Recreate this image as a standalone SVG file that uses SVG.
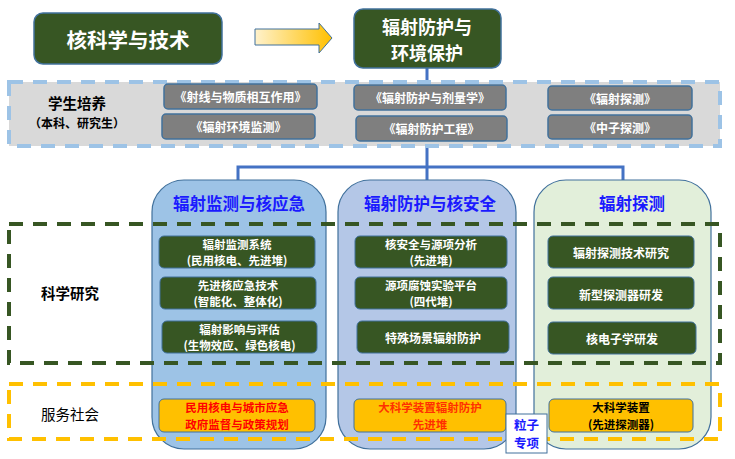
<svg xmlns="http://www.w3.org/2000/svg" width="735" height="459" viewBox="0 0 735 459">
<defs>
<linearGradient id="ag" x1="0" y1="0" x2="1" y2="0">
<stop offset="0" stop-color="#fff2cc"/>
<stop offset="1" stop-color="#ffc000"/>
</linearGradient>
<style>
text{font-family:"Noto Sans CJK SC","Liberation Sans",sans-serif;text-anchor:middle;dominant-baseline:central;font-weight:bold}
.top{fill:#375623;stroke:#41719c;stroke-width:1.5}
.course{fill:#7f7f7f;stroke:#41719c;stroke-width:1.5}
.ct{fill:#fff;font-size:12px}
.g{fill:#375623;stroke:#41719c;stroke-width:1}
.gt{fill:#fff;font-size:12px}
.gt2{fill:#fff;font-size:11.5px}
.o{fill:#ffc000;stroke:#41719c;stroke-width:1}
.ot{font-size:11.5px}
.col{stroke:#41719c;stroke-width:1.2}
.h{fill:#1a1aff;font-size:16.5px}
.lab{fill:#000;font-size:14.5px}
.conn{stroke:#4472c4;stroke-width:3;fill:none}
</style>
</defs>
<g id="connectors">
<path class="conn" d="M427 68V88M427 140V167M238 181V167H623V181M427 167V181"/>
</g>
<g id="arrow">
<path d="M255 29H319V23L332 38L319 53V45H255Z" fill="url(#ag)" stroke="#41719c" stroke-width="1"/>
</g>
<g id="n-nst">
<rect class="top" x="34" y="13" width="188" height="51" rx="9"/>
<text x="128" y="39" fill="#fff" style="font-size:20.5px">核科学与技术</text>
</g>
<g id="n-rp">
<rect class="top" x="354" y="9" width="147" height="59" rx="9"/>
<text x="427" y="25.5" fill="#fff" style="font-size:18px">辐射防护与</text>
<text x="427" y="51.5" fill="#fff" style="font-size:18px">环境保护</text>
</g>
<g id="band-students">
<rect x="9" y="82" width="711" height="64" fill="#d9d9d9" stroke="#9dc3e6" stroke-width="4" stroke-dasharray="14 10"/>
<text class="lab" x="77" y="102.5">学生培养</text>
<text x="77" y="122.5" style="font-size:12px">（本科、研究生）</text>
</g>
<g id="c1"><rect class="course" x="164" y="84" width="153" height="25" rx="4"/><text class="ct" x="240.5" y="96.5">《射线与物质相互作用》</text></g>
<g id="c2"><rect class="course" x="162" y="114" width="153" height="25" rx="4"/><text class="ct" x="238.5" y="126.5">《辐射环境监测》</text></g>
<g id="c3"><rect class="course" x="354" y="85" width="152" height="25" rx="4"/><text class="ct" x="430" y="97.5">《辐射防护与剂量学》</text></g>
<g id="c4"><rect class="course" x="356" y="116" width="151" height="25" rx="4"/><text class="ct" x="431.5" y="128.5">《辐射防护工程》</text></g>
<g id="c5"><rect class="course" x="548" y="86" width="144" height="24" rx="4"/><text class="ct" x="620" y="98">《辐射探测》</text></g>
<g id="c6"><rect class="course" x="548" y="115" width="144" height="24" rx="4"/><text class="ct" x="620" y="127">《中子探测》</text></g>
<g id="col1"><rect class="col" x="152" y="180" width="174" height="269" rx="32" fill="#9dc3e6"/><text class="h" x="239" y="203">辐射监测与核应急</text></g>
<g id="col2"><rect class="col" x="338" y="180" width="178" height="269" rx="32" fill="#b4c7e7"/><text class="h" x="430" y="203">辐射防护与核安全</text></g>
<g id="col3"><rect class="col" x="534" y="180" width="177" height="269" rx="32" fill="#e2efda"/><text class="h" x="632" y="203">辐射探测</text></g>
<g id="band-research">
<rect x="9" y="224" width="711" height="139" fill="none" stroke="#375623" stroke-width="4" stroke-dasharray="14 10"/>
<text class="lab" x="70" y="292">科学研究</text>
</g>
<g id="band-service">
<rect x="9" y="384" width="711" height="55" fill="none" stroke="#ffc000" stroke-width="4" stroke-dasharray="14 10"/>
<text class="lab" x="70" y="413" style="font-weight:normal">服务社会</text>
</g>
<g id="r1"><rect class="g" x="159" y="236" width="156" height="32" rx="5"/><text class="gt2" x="237" y="243.7">辐射监测系统</text><text class="gt2" x="237" y="260.3">(民用核电、先进堆)</text></g>
<g id="r2"><rect class="g" x="160" y="277" width="156" height="32" rx="5"/><text class="gt2" x="238" y="284.7">先进核应急技术</text><text class="gt2" x="238" y="301.3">(智能化、整体化)</text></g>
<g id="r3"><rect class="g" x="162" y="321" width="155" height="32" rx="5"/><text class="gt2" x="239.5" y="328.7">辐射影响与评估</text><text class="gt2" x="239.5" y="345.3">(生物效应、绿色核电)</text></g>
<g id="r4"><rect class="g" x="355" y="236" width="152" height="32" rx="5"/><text class="gt2" x="431" y="243.7">核安全与源项分析</text><text class="gt2" x="431" y="260.3">(先进堆)</text></g>
<g id="r5"><rect class="g" x="355" y="277" width="152" height="32" rx="5"/><text class="gt2" x="431" y="284.7">源项腐蚀实验平台</text><text class="gt2" x="431" y="301.3">(四代堆)</text></g>
<g id="r6"><rect class="g" x="357" y="321" width="152" height="32" rx="5"/><text class="gt" x="433" y="337">特殊场景辐射防护</text></g>
<g id="r7"><rect class="g" x="548" y="236" width="146" height="32" rx="5"/><text class="gt" x="621" y="252">辐射探测技术研究</text></g>
<g id="r8"><rect class="g" x="548" y="277" width="146" height="32" rx="5"/><text class="gt" x="621" y="294">新型探测器研发</text></g>
<g id="r9"><rect class="g" x="548" y="322" width="148" height="32" rx="5"/><text class="gt" x="622" y="338">核电子学研发</text></g>
<g id="s1"><rect class="o" x="159" y="399" width="156" height="33" rx="5"/><text class="ot" x="237" y="407.2" fill="#ff0000">民用核电与城市应急</text><text class="ot" x="237" y="423.8" fill="#ff0000">政府监督与政策规划</text></g>
<g id="s2"><rect class="o" x="354" y="399" width="152" height="33" rx="5"/><text class="ot" x="430" y="407.2" fill="#ff3000">大科学装置辐射防护</text><text class="ot" x="430" y="423.8" fill="#ff3000">先进堆</text></g>
<g id="s3"><rect class="o" x="549" y="399" width="144" height="33" rx="5"/><text class="ot" x="621" y="407.2" fill="#000">大科学装置</text><text class="ot" x="621" y="423.8" fill="#000">(先进探测器)</text></g>
<g id="particle"><rect x="506" y="414" width="41" height="39" fill="#fff" stroke="#41719c" stroke-width="1"/><text x="526.5" y="424.2" fill="#1a1aff" style="font-size:12.5px">粒子</text><text x="526.5" y="442.8" fill="#1a1aff" style="font-size:12.5px">专项</text></g>
</svg>
